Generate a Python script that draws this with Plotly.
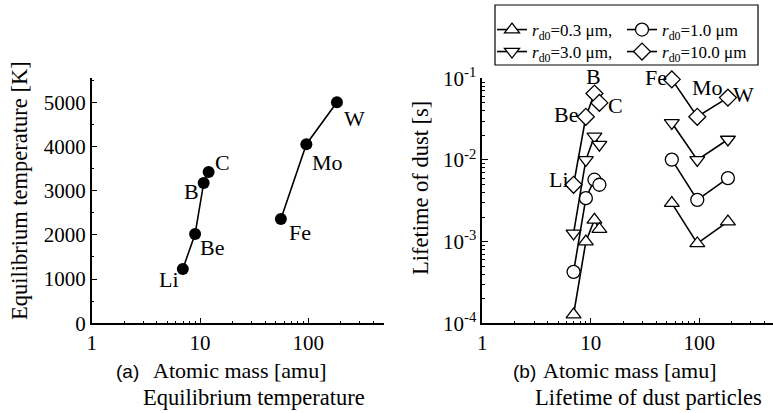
import math
import plotly.graph_objects as go

# ---------------- data ----------------
elements = ["Li", "Be", "B", "C", "Fe", "Mo", "W"]
atomic_mass = [6.94, 9.01, 10.81, 12.01, 55.85, 95.95, 183.84]
equilibrium_temp = [1230, 2020, 3170, 3420, 2360, 4050, 5000]

life_r03 = [1.28e-4, 1.0e-3, 1.85e-3, 1.42e-3, 2.96e-3, 9.5e-4, 1.76e-3]
life_r10 = [4.27e-4, 3.41e-3, 5.73e-3, 4.97e-3, 1.01e-2, 3.25e-3, 6.0e-3]
life_r30 = [1.26e-3, 1.0e-2, 1.95e-2, 1.54e-2, 2.85e-2, 1.0e-2, 1.78e-2]
life_r100 = [4.97e-3, 3.38e-2, 6.5e-2, 5.0e-2, 9.7e-2, 3.38e-2, 5.8e-2]

series_names = ["<i>r</i><sub>d0</sub>=0.3 μm,", "<i>r</i><sub>d0</sub>=1.0 μm",
                "<i>r</i><sub>d0</sub>=3.0 μm,", "<i>r</i><sub>d0</sub>=10.0 μm"]
light_group = 4  # Li, Be, B, C connected; Fe, Mo, W connected

ytick_left = [0, 1000, 2000, 3000, 4000, 5000]
ytick_right = [1e-4, 1e-3, 1e-2, 1e-1]
ytick_right_text = ["10<sup>-4</sup>", "10<sup>-3</sup>", "10<sup>-2</sup>", "10<sup>-1</sup>"]
xtick_vals = [1, 10, 100]

# ---------------- styles ----------------
W, H = 773, 413
SERIF = "Liberation Serif"
SANS = "Liberation Sans"


def px(x):
    return x / W


def py(y):
    return 1 - y / H


def split(vals):
    return list(vals[:light_group]) + [None] + list(vals[light_group:])


fig = go.Figure()

# left panel
fig.add_trace(go.Scatter(
    x=split(atomic_mass), y=split(equilibrium_temp), mode="lines+markers",
    line=dict(color="black", width=1.6),
    marker=dict(symbol="circle", size=12, color="black"),
    showlegend=False, xaxis="x", yaxis="y", connectgaps=False, cliponaxis=False))

# right panel
symbols = ["triangle-up", "circle", "triangle-down", "diamond"]
legend_ids = ["legend", "legend", "legend2", "legend2"]
for vals, name, sym, lg in zip([life_r03, life_r10, life_r30, life_r100], series_names, symbols, legend_ids):
    fig.add_trace(go.Scatter(
        x=split(atomic_mass), y=split(vals), mode="lines+markers", name=name,
        line=dict(color="black", width=1.6),
        marker=dict(symbol=sym, size=13, color="white", line=dict(color="black", width=1.3)),
        xaxis="x2", yaxis="y2", connectgaps=False, cliponaxis=False, legend=lg))

# element labels
left_off = {"Li": (-14, -11), "Be": (17, -14), "B": (-12, -8), "C": (14, 10),
            "Fe": (19, -14), "Mo": (21, -18), "W": (18, -16)}
right_off = {"Li": (-15, 5), "Be": (-20, 2), "B": (-1, 17), "C": (16, -3),
             "Fe": (-16, 2), "Mo": (10, 29), "W": (16, 3)}
annotations = []
for el, m, t, l in zip(elements, atomic_mass, equilibrium_temp, life_r100):
    dx, dy = left_off[el]
    annotations.append(dict(x=math.log10(m), y=t, xref="x", yref="y", text=el, showarrow=False,
                            xshift=dx, yshift=dy, font=dict(family=SERIF, size=22, color="black")))
    dx, dy = right_off[el]
    annotations.append(dict(x=math.log10(m), y=math.log10(l), xref="x2", yref="y2", text=el,
                            showarrow=False, xshift=dx, yshift=dy,
                            font=dict(family=SERIF, size=22, color="black")))

# axis titles & captions
tf = dict(family=SERIF, size=22.5, color="black")
tf2 = dict(family=SERIF, size=22, color="black")
annotations += [
    dict(x=px(20), y=py(191), xref="paper", yref="paper", text="Equilibrium temperature [K]",
         textangle=-90, showarrow=False, font=tf, xanchor="center", yanchor="middle"),
    dict(x=px(420), y=py(188), xref="paper", yref="paper", text="Lifetime of dust [s]",
         textangle=-90, showarrow=False, font=tf, xanchor="center", yanchor="middle"),
    dict(x=px(127), y=py(371), xref="paper", yref="paper", text="(a)", showarrow=False,
         font=dict(family=SANS, size=19, color="black"), xanchor="center", yanchor="middle"),
    dict(x=px(151), y=py(370), xref="paper", yref="paper", text="Atomic mass [amu]", showarrow=False,
         font=tf2, xanchor="left", yanchor="middle"),
    dict(x=px(254), y=py(397), xref="paper", yref="paper", text="Equilibrium temperature",
         showarrow=False, font=tf, xanchor="center", yanchor="middle"),
    dict(x=px(524), y=py(371), xref="paper", yref="paper", text="(b)", showarrow=False,
         font=dict(family=SANS, size=19, color="black"), xanchor="center", yanchor="middle"),
    dict(x=px(541), y=py(370), xref="paper", yref="paper", text="Atomic mass [amu]", showarrow=False,
         font=tf2, xanchor="left", yanchor="middle"),
    dict(x=px(648), y=py(397), xref="paper", yref="paper", text="Lifetime of dust particles",
         showarrow=False, font=tf, xanchor="center", yanchor="middle"),
]

minor_x = [2, 3, 4, 5, 6, 7, 8, 9, 20, 30, 40, 50, 60, 70, 80, 90, 200, 300, 400]
minor_y2 = [d * 10 ** e for e in (-4, -3, -2) for d in range(2, 10)]

tickfont = dict(family=SERIF, size=21, color="black")
common_x = dict(type="log", showgrid=False, zeroline=False, showline=True, linecolor="black",
                linewidth=1.5, ticks="inside", ticklen=6, tickwidth=1.2, tickcolor="black",
                tickmode="array", tickvals=xtick_vals, ticktext=["1", "10", "100"],
                tickfont=tickfont, automargin=False,
                minor=dict(ticks="inside", ticklen=3, tickwidth=1, tickcolor="black",
                           tickmode="array", tickvals=minor_x, showgrid=False))

legend_style = dict(orientation="h", xanchor="left", yanchor="top", borderwidth=0,
                    bgcolor="rgba(0,0,0,0)", font=dict(family=SERIF, size=17, color="black"),
                    entrywidth=85, entrywidthmode="pixels", tracegroupgap=0)

fig.update_layout(
    width=W, height=H,
    margin=dict(l=0, r=0, t=0, b=0, autoexpand=False),
    paper_bgcolor="white", plot_bgcolor="white",
    template="none",
    font=dict(family=SERIF, color="black"),
    xaxis=dict(domain=[px(91.7), px(384)], range=[0, math.log10(500)], anchor="y", **common_x),
    xaxis2=dict(domain=[px(482.3), 1.0], range=[0, 2.68], anchor="y2", **common_x),
    yaxis=dict(domain=[py(323.3), py(78.3)], range=[0, 5540], anchor="x", showgrid=False,
               zeroline=False, showline=True, linecolor="black", linewidth=1.5,
               ticks="inside", ticklen=6, tickwidth=1.2, tickcolor="black",
               tickmode="array", tickvals=ytick_left, tickfont=tickfont, automargin=False,
               minor=dict(ticks="inside", ticklen=3, tickwidth=1, tickcolor="black",
                          dtick=500, showgrid=False)),
    yaxis2=dict(domain=[py(323.3), py(78.3)], type="log", range=[-4, -1], anchor="x2",
                showgrid=False, zeroline=False, showline=True, linecolor="black", linewidth=1.5,
                ticks="inside", ticklen=6, tickwidth=1.2, tickcolor="black",
                tickmode="array", tickvals=ytick_right, ticktext=ytick_right_text,
                tickfont=tickfont, automargin=False,
                minor=dict(ticks="inside", ticklen=3, tickwidth=1, tickcolor="black",
                           tickmode="array", tickvals=minor_y2, showgrid=False)),
    legend=dict(x=px(492), y=py(12), **legend_style),
    legend2=dict(x=px(492), y=py(34), **legend_style),
    shapes=[dict(type="rect", xref="paper", yref="paper", x0=px(495), x1=px(758),
                 y0=py(65), y1=py(5), line=dict(color="black", width=1.2), layer="above")],
    annotations=annotations,
)

fig.write_html("out.html", config={"displayModeBar": False},
               post_script="document.body.style.margin='0';")
